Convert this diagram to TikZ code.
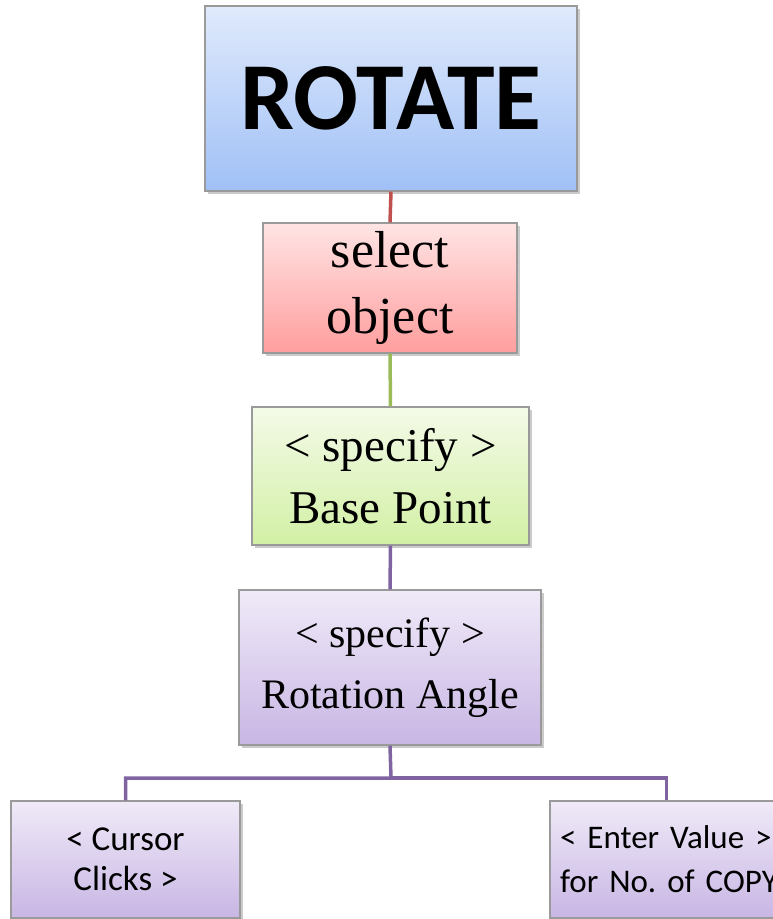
\documentclass[tikz,border=0pt]{standalone}
\usepackage{fontspec}
\setmainfont{Liberation Serif}
\newfontfamily\calfont{Carlito}
\usetikzlibrary{shadows}
\definecolor{lnred}{HTML}{C0504D}
\definecolor{lngreen}{HTML}{9BBB59}
\definecolor{lnpurple}{HTML}{8064A2}
\definecolor{bordgray}{HTML}{9A9A9A}
\tikzset{
  box/.style={draw=bordgray, line width=1.2pt, inner sep=0pt, align=center,
    drop shadow={shadow xshift=2.5pt, shadow yshift=-2.5pt, opacity=0.35, fill=black!60}},
  bluebox/.style={box, top color={rgb,255:red,224;green,234;blue,252}, bottom color={rgb,255:red,160;green,192;blue,246}},
  redbox/.style={box, top color={rgb,255:red,255;green,228;blue,228}, bottom color={rgb,255:red,255;green,158;blue,158}},
  greenbox/.style={box, top color={rgb,255:red,244;green,250;blue,232}, bottom color={rgb,255:red,210;green,240;blue,165}},
  purplebox/.style={box, top color={rgb,255:red,240;green,234;blue,248}, bottom color={rgb,255:red,200;green,182;blue,228}},
  conn/.style={line width=3.5pt},
}
\begin{document}
\begin{tikzpicture}[x=1pt,y=-1pt]
\useasboundingbox (0,0) rectangle (773,919);
\node[bluebox, minimum width=372pt, minimum height=185pt, font=\calfont\bfseries\fontsize{96}{100}\selectfont] (top) at (391,98.5) {ROTATE};
\node[redbox, minimum width=254pt, minimum height=130pt, font=\fontsize{52}{66}\selectfont] (sel) at (390,288) {\raisebox{-4pt}{select}\\\raisebox{-4pt}{object}};
\node[greenbox, minimum width=277pt, minimum height=138pt, font=\fontsize{47}{62}\selectfont] (base) at (390.5,476) {\textless\ specify \textgreater\\Base Point};
\node[purplebox, minimum width=302pt, minimum height=155pt, font=\fontsize{42}{61}\selectfont] (rot) at (390,667.5) {\raisebox{-3pt}{\textless\ specify \textgreater}\\\raisebox{-3pt}{Rotation Angle}};
\node[purplebox, minimum width=229pt, minimum height=117pt, font=\calfont\fontsize{35}{40}\selectfont] (cur) at (125.5,859.5) {\textless\ Cursor\\Clicks \textgreater};
\node[purplebox, minimum height=117pt, text width=235pt, inner xsep=10pt, align=left, font=\calfont\fontsize{33}{44}\selectfont] (cop) at (677.5,859.5) {\textless\ Enter Value \textgreater\\for No.\ of COPY};
\coordinate (bus) at (391,778);
\draw[conn, lnred] (top.south) -- (sel.north);
\draw[conn, lngreen] (sel.south) -- (base.north);
\draw[conn, lnpurple] (base.south) -- (rot.north);
\draw[conn, lnpurple] (rot.south) -- (bus) -| (cur.north);
\draw[conn, lnpurple] (bus) -| ([xshift=117pt]cop.north west);
\end{tikzpicture}
\end{document}
